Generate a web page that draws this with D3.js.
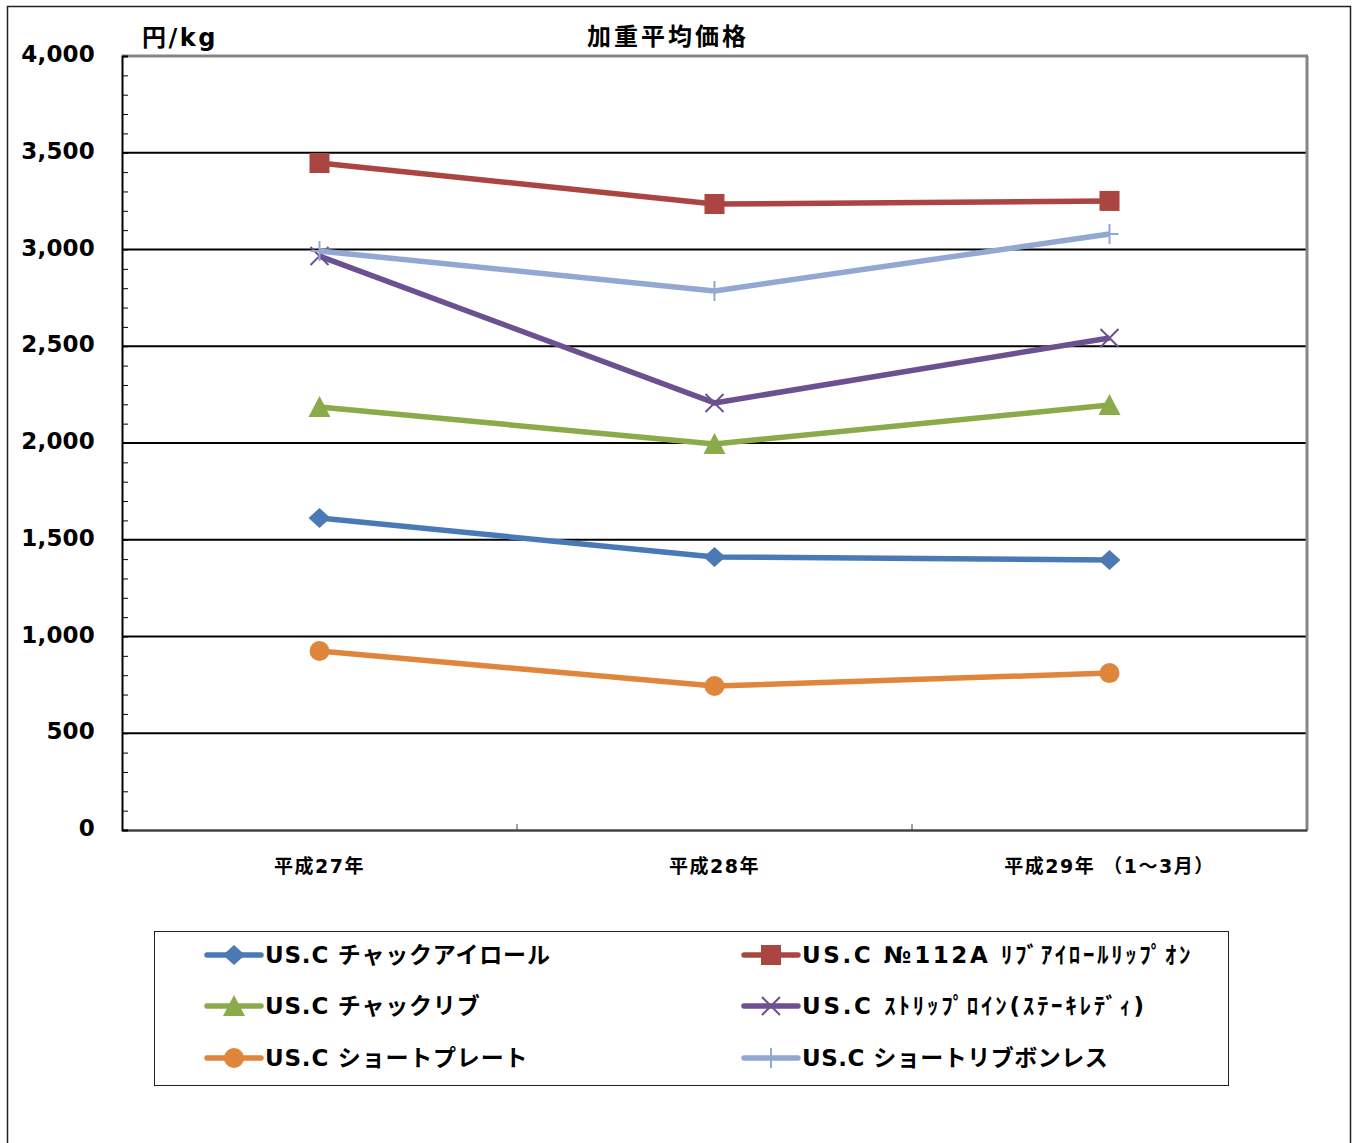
<!DOCTYPE html>
<html>
<head>
<meta charset="utf-8">
<script src="https://cdn.jsdelivr.net/npm/d3@7"></script>
<style>
  body { margin: 0; background: #fff; }
  text { font-family: "DejaVu Sans", "Noto Sans CJK JP", sans-serif; font-weight: bold; fill: #000; }
  .jp { font-family: "Noto Sans CJK JP", sans-serif; }
</style>
</head>
<body>
<div class="visualization"></div>
<script>
// chart data
var categories = ["平成27年", "平成28年", "平成29年 （1～3月）"];
var seriesNames = [
  "US.C チャックアイロール",
  "US.C №112A ﾘﾌﾞｱｲﾛｰﾙﾘｯﾌﾟｵﾝ",
  "US.C チャックリブ",
  "US.C ｽﾄﾘｯﾌﾟﾛｲﾝ(ｽﾃｰｷﾚﾃﾞｨ)",
  "US.C ショートプレート",
  "US.C ショートリブボンレス"
];
var chuckEyeRoll = [1612, 1411, 1395];
var ribeyeLipOn = [3447, 3235, 3251];
var chuckRib = [2186, 1995, 2196];
var striploin = [2966, 2207, 2543];
var shortPlate = [925, 744, 811];
var shortRibBoneless = [2992, 2786, 3080];
var yTicks = [0, 500, 1000, 1500, 2000, 2500, 3000, 3500, 4000];

var seriesValues = [chuckEyeRoll, ribeyeLipOn, chuckRib, striploin, shortPlate, shortRibBoneless];
var colors = ["#4A7AB5", "#AA4541", "#8BAA4A", "#6C5190", "#E0853C", "#91A9D2"];
var markers = ["diamond", "square", "triangle", "x", "circle", "plus"];
// half-width kana labels need wider spacing
var legendSpacing = [0.8, 2.6, 0.8, 2.7, 0.8, 0.5];

var width = 1356, height = 1143;
var plot = {left: 122, top: 56, right: 1307, bottom: 830};

var svg = d3.select(".visualization").append("svg")
    .attr("width", width).attr("height", height);

// outer frame
svg.append("rect")
    .attr("x", 7.5).attr("y", 6.5)
    .attr("width", 1343).attr("height", 1150)
    .attr("fill", "none").attr("stroke", "#222").attr("stroke-width", 1.5);

var xScale = d3.scaleBand().domain(categories).range([plot.left, plot.right]);
var yScale = d3.scaleLinear().domain([0, 4000]).range([plot.bottom, plot.top]);

// gridlines
svg.append("g").selectAll("line")
    .data(yTicks.filter(function(d){ return d > 0 && d < 4000; }))
    .enter().append("line")
    .attr("x1", plot.left).attr("x2", plot.right)
    .attr("y1", function(d){ return yScale(d); })
    .attr("y2", function(d){ return yScale(d); })
    .attr("stroke", "#000").attr("stroke-width", 2);

// plot border top/right
svg.append("line").attr("x1", plot.left).attr("x2", plot.right + 1)
    .attr("y1", plot.top).attr("y2", plot.top)
    .attr("stroke", "#868686").attr("stroke-width", 3);
svg.append("line").attr("x1", plot.right).attr("x2", plot.right)
    .attr("y1", plot.top).attr("y2", plot.bottom)
    .attr("stroke", "#868686").attr("stroke-width", 3);

// x axis
var xAxis = d3.axisBottom(xScale).tickSize(0).tickFormat("");
svg.append("g").attr("transform", "translate(0," + plot.bottom + ")")
    .call(xAxis)
    .call(function(g){ g.select(".domain").attr("stroke", "#444").attr("stroke-width", 2.5); });
// category boundary ticks
svg.append("g").selectAll("line")
    .data(categories.slice(1))
    .enter().append("line")
    .attr("x1", function(d){ return xScale(d); })
    .attr("x2", function(d){ return xScale(d); })
    .attr("y1", plot.bottom).attr("y2", plot.bottom - 6)
    .attr("stroke", "#444").attr("stroke-width", 1);
svg.append("g").selectAll("text")
    .data(categories)
    .enter().append("text")
    .attr("x", function(d){ return xScale(d) + xScale.bandwidth() / 2; })
    .attr("y", 873)
    .attr("text-anchor", "middle")
    .attr("font-size", 19)
    .attr("letter-spacing", 1.5)
    .text(function(d){ return d; });

// y axis
var minorTicks = d3.range(0, 4001, 100);
var yAxis = d3.axisRight(yScale).tickValues(minorTicks).tickSize(6).tickFormat("");
svg.append("g").attr("transform", "translate(" + plot.left + ",0)")
    .call(yAxis)
    .call(function(g){
        g.select(".domain").attr("stroke", "#000").attr("stroke-width", 2);
        g.selectAll(".tick line").attr("stroke", "#000").attr("stroke-width", 1);
    });
svg.append("g").selectAll("text")
    .data(yTicks)
    .enter().append("text")
    .attr("x", 95)
    .attr("y", function(d){ return yScale(d) + 6; })
    .attr("text-anchor", "end")
    .attr("font-size", 23)
    .attr("letter-spacing", 0.2)
    .text(d3.format(","));

// unit and title
svg.append("text").attr("x", 142).attr("y", 46).attr("font-size", 24).attr("letter-spacing", 2.5).text("円/kg");
svg.append("text").attr("class", "jp").attr("x", 668).attr("y", 45)
    .attr("text-anchor", "middle").attr("font-size", 24).attr("letter-spacing", 3).text("加重平均価格");

function drawMarker(g, type, color, x, y){
    if(type === "diamond"){
        g.append("path").attr("d", "M" + x + "," + (y - 10) + "L" + (x + 11) + "," + y + "L" + x + "," + (y + 10) + "L" + (x - 11) + "," + y + "Z")
            .attr("fill", color);
    } else if(type === "square"){
        g.append("rect").attr("x", x - 10).attr("y", y - 10).attr("width", 20).attr("height", 20).attr("fill", color);
    } else if(type === "triangle"){
        g.append("path").attr("d", "M" + x + "," + (y - 11) + "L" + (x + 11) + "," + (y + 10) + "L" + (x - 11) + "," + (y + 10) + "Z")
            .attr("fill", color);
    } else if(type === "circle"){
        g.append("circle").attr("cx", x).attr("cy", y).attr("r", 10).attr("fill", color);
    } else if(type === "x"){
        g.append("path").attr("d", "M" + (x - 9) + "," + (y - 9) + "L" + (x + 9) + "," + (y + 9) + "M" + (x + 9) + "," + (y - 9) + "L" + (x - 9) + "," + (y + 9))
            .attr("stroke", color).attr("stroke-width", 2).attr("fill", "none");
    } else if(type === "plus"){
        g.append("path").attr("d", "M" + x + "," + (y - 10) + "L" + x + "," + (y + 10) + "M" + (x - 9) + "," + y + "L" + (x + 9) + "," + y)
            .attr("stroke", color).attr("stroke-width", 2).attr("fill", "none");
    }
}

// series lines
var line = d3.line()
    .x(function(d, i){ return xScale(categories[i]) + xScale.bandwidth() / 2; })
    .y(function(d){ return yScale(d); });
seriesValues.forEach(function(vals, s){
    var g = svg.append("g");
    g.append("path").datum(vals)
        .attr("d", line)
        .attr("fill", "none")
        .attr("stroke", colors[s])
        .attr("stroke-width", 5.5)
        .attr("stroke-linejoin", "round");
    vals.forEach(function(v, i){
        drawMarker(g, markers[s], colors[s], xScale(categories[i]) + xScale.bandwidth() / 2, yScale(v));
    });
});

// legend
svg.append("rect").attr("x", 154.5).attr("y", 931.5).attr("width", 1074).attr("height", 154)
    .attr("fill", "none").attr("stroke", "#222").attr("stroke-width", 1);
var legendRows = [953, 1004, 1056];
var legendCols = [207, 744];
seriesNames.forEach(function(name, s){
    var col = s % 2, row = Math.floor(s / 2);
    var lx = legendCols[col], ly = legendRows[row];
    var g = svg.append("g");
    g.append("line").attr("x1", lx).attr("x2", lx + 54)
        .attr("y1", ly + 2).attr("y2", ly + 2)
        .attr("stroke", colors[s]).attr("stroke-width", 5.5).attr("stroke-linecap", "round");
    drawMarker(g, markers[s], colors[s], lx + 27, ly + 2);
    g.append("text").attr("x", lx + 58).attr("y", ly + 10)
        .attr("font-size", 23)
        .attr("letter-spacing", legendSpacing[s])
        .text(name);
});
</script>
</body>
</html>
